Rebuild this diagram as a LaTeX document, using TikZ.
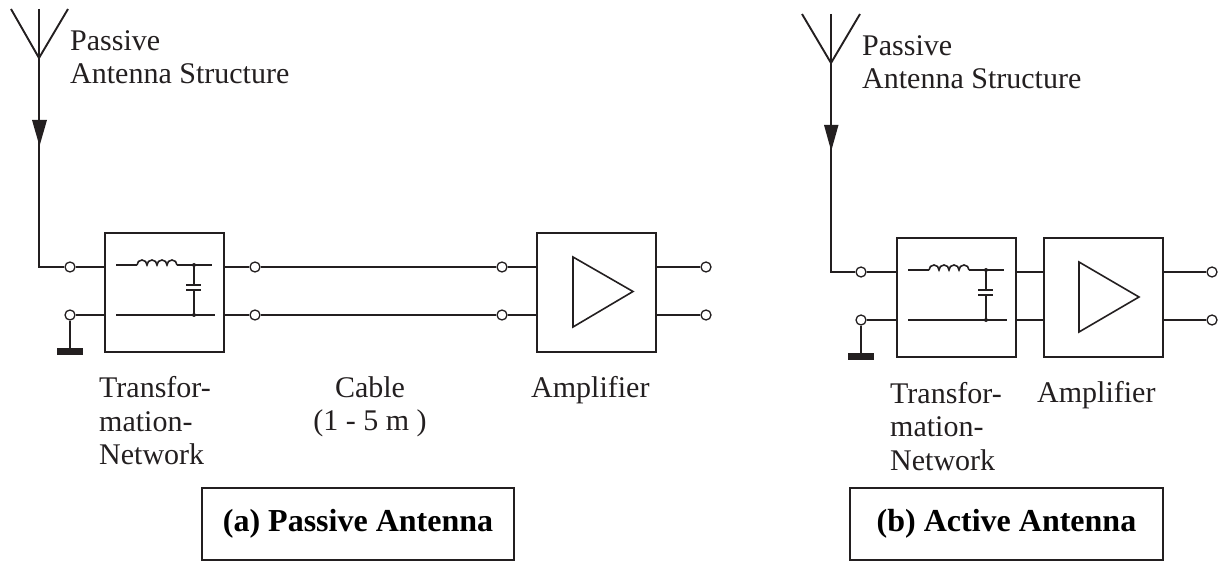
\documentclass[tikz,border=0pt]{standalone}
\usepackage{fontspec}
\setmainfont{Liberation Serif}
\usetikzlibrary{arrows.meta,positioning,calc}
\definecolor{InkBlack}{RGB}{35,31,32}
\tikzset{
  x=1pt, y=-1pt,
  block/.style  = {draw=InkBlack, line width=1.5pt, minimum width=119pt, minimum height=119pt,
                   inner sep=0pt, outer sep=0pt},
  term/.style   = {circle, draw=InkBlack, fill=white, line width=1.3pt, minimum size=10pt,
                   inner sep=0pt},
  wire/.style   = {draw=InkBlack, line width=2.2pt},
  thinwire/.style = {draw=InkBlack, line width=1.6pt},
  gnd/.style    = {fill=InkBlack, draw=none, minimum width=26pt, minimum height=7pt,
                   inner sep=0pt},
  dot/.style    = {circle, fill=InkBlack, minimum size=4pt, inner sep=0pt},
  lbl/.style    = {font=\fontsize{30}{33.5}\selectfont, text=InkBlack, align=left, inner sep=0pt},
  caption/.style= {draw=InkBlack, line width=1.5pt, minimum height=72pt, inner sep=0pt,
                   outer sep=0pt, font=\fontsize{32}{36}\selectfont\bfseries},
}
% low pass network inside a transformation block
\newcommand{\lowpass}[1]{
  \draw[thinwire] ($(#1.west)+(11,-27.5)$) -- ++(21,0) coordinate (#1b);
  \draw[thinwire] (#1b)
    arc[start angle=180,end angle=0,radius=5pt]
    arc[start angle=180,end angle=0,radius=5pt]
    arc[start angle=180,end angle=0,radius=5pt]
    arc[start angle=180,end angle=0,radius=5pt] coordinate (#1c);
  \draw[thinwire] (#1c) -- ($(#1.west)+(107,-27.5)$);
  \draw[thinwire] ($(#1.west)+(11,22.5)$) -- ++(99,0);
  \draw[thinwire] ($(#1.west)+(89,-27.5)$) node[dot]{} -- ++(0,20);
  \draw[thinwire] ($(#1.west)+(89,-2.5)$) -- ++(0,25) node[dot]{};
  \draw[wire] ($(#1.west)+(81,-7.5)$) -- ++(15,0);
  \draw[wire] ($(#1.west)+(81,-2.5)$) -- ++(15,0);
}
\begin{document}
\begin{tikzpicture}
\useasboundingbox (0,0) rectangle (1218,561);
% (a) passive
\coordinate (Atip) at (39,58);
\draw[thinwire, line width=1.9pt] (11,9) -- (Atip) -- (68,9);
\draw[thinwire, line width=1.9pt] (39,9) -- (Atip);
\node[block, anchor=north west] (T1) at (105,233) {};
\node[block, anchor=north west] (A1) at (537,233) {};
\node[term] (i1) at (70,267) {};
\node[term] (i2) at (70,315) {};
\node[term] (c1) at (255,267) {};
\node[term] (c2) at (255,315) {};
\node[term] (c3) at (502,267) {};
\node[term] (c4) at (502,315) {};
\node[term] (o1) at (706,267) {};
\node[term] (o2) at (706,315) {};
\node[gnd] (G1) at (70,351.5) {};
\draw[wire] (Atip) -- (39,267) -- (i1);
\fill[InkBlack] (32,120) -- (47,120) -- (39.5,146) -- cycle;
\draw[wire] (i1) -- (i1-|T1.west);
\draw[wire] (i2) -- (i2-|T1.west);
\draw[wire] (c1-|T1.east) -- (c1);
\draw[wire] (c2-|T1.east) -- (c2);
\draw[wire] (c1) -- (c3);
\draw[wire] (c2) -- (c4);
\draw[wire] (c3) -- (c3-|A1.west);
\draw[wire] (c4) -- (c4-|A1.west);
\draw[wire] (o1-|A1.east) -- (o1);
\draw[wire] (o2-|A1.east) -- (o2);
\draw[wire] (i2) -- (G1);
\lowpass{T1}
\draw[thinwire] (573,257) -- (633,291.5) -- (573,327) -- cycle;
\node[lbl, anchor=north west] (ant1) at (70,30) {Passive\\Antenna Structure};
\node[lbl, anchor=north west] (net1) at (99,376.5) {Transfor-\\mation-\\Network};
\node[lbl, anchor=north, align=center] (cab) at (370,376) {Cable\\(1 - 5 m )};
\node[lbl, anchor=base west] (amp1) at (531,397) {Amplifier};
\node[caption, anchor=north west, minimum width=312pt] (capa) at (202,488) {(a) Passive Antenna};
% (b) active
\coordinate (Btip) at (831,63);
\draw[thinwire, line width=1.9pt] (802,14) -- (Btip) -- (860,14);
\draw[thinwire, line width=1.9pt] (831,14) -- (Btip);
\node[block, anchor=north west] (T2) at (897,238) {};
\node[block, anchor=north west] (A2) at (1044,238) {};
\node[term] (j1) at (861,272) {};
\node[term] (j2) at (861,320) {};
\node[term] (p1) at (1212,272) {};
\node[term] (p2) at (1212,320) {};
\node[gnd] (G2) at (861,356.5) {};
\draw[wire] (Btip) -- (831,272) -- (j1);
\fill[InkBlack] (824,125) -- (838.5,125) -- (831.2,151) -- cycle;
\draw[wire] (j1) -- (j1-|T2.west);
\draw[wire] (j2) -- (j2-|T2.west);
\draw[wire] (j1-|T2.east) -- (j1-|A2.west);
\draw[wire] (j2-|T2.east) -- (j2-|A2.west);
\draw[wire] (p1-|A2.east) -- (p1);
\draw[wire] (p2-|A2.east) -- (p2);
\draw[wire] (j2) -- (G2);
\lowpass{T2}
\draw[thinwire] (1079,262) -- (1139,297) -- (1079,332) -- cycle;
\node[lbl, anchor=north west] (ant2) at (862,35) {Passive\\Antenna Structure};
\node[lbl, anchor=north west] (net2) at (890,382) {Transfor-\\mation-\\Network};
\node[lbl, anchor=base west] (amp2) at (1037,402.7) {Amplifier};
\node[caption, anchor=north west, minimum width=313pt] (capb) at (850,488) {(b) Active Antenna};
\end{tikzpicture}
\end{document}
